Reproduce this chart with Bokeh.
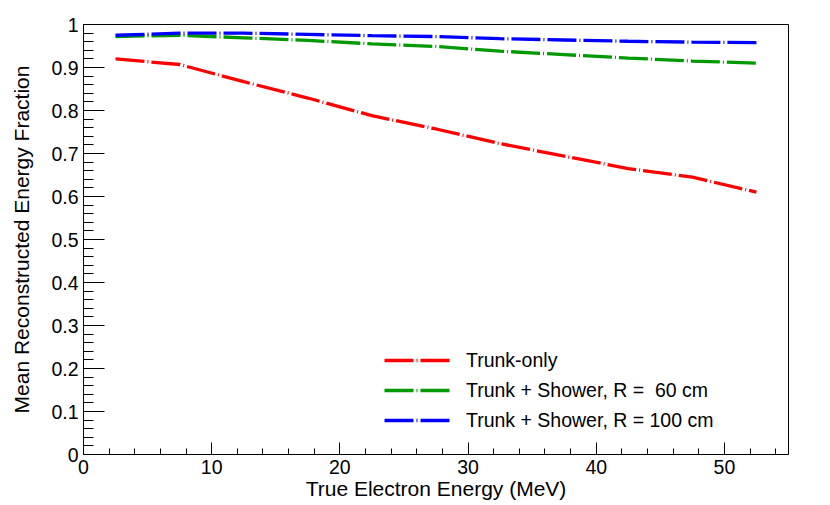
from bokeh.plotting import figure
from bokeh.models import Range1d, SingleIntervalTicker, Legend, LegendItem, ColumnDataSource
from bokeh.embed import file_html
from bokeh.resources import INLINE

# ---- data ----
energy_mev = [2.5, 7.5, 12.5, 17.5, 22.5, 27.5, 32.5, 37.5, 42.5, 47.5, 52.5]
trunk_only = [0.920, 0.907, 0.867, 0.829, 0.788, 0.757, 0.723, 0.694, 0.665, 0.645, 0.610]
shower_r60 = [0.972, 0.975, 0.969, 0.963, 0.955, 0.949, 0.938, 0.930, 0.922, 0.915, 0.910]
shower_r100 = [0.975, 0.980, 0.980, 0.977, 0.974, 0.972, 0.967, 0.964, 0.961, 0.959, 0.958]

series_labels = ["Trunk-only", "Trunk + Shower, R =  60 cm", "Trunk + Shower, R = 100 cm"]
series_colors = ["#ff0000", "#009900", "#0000ff"]
x_title = "True Electron Energy (MeV)"
y_title = "Mean Reconstructed Energy Fraction"

FONT = "Liberation Sans"

p = figure(
    frame_width=705, frame_height=430,
    min_border_left=83, min_border_right=42, min_border_top=24, min_border_bottom=51,
    x_range=Range1d(0, 55), y_range=Range1d(0, 1),
    output_backend="svg", toolbar_location=None,
)
p.background_fill_color = "white"
p.border_fill_color = "white"
p.outline_line_color = "black"
p.outline_line_width = 1
p.xgrid.visible = False
p.ygrid.visible = False

src = ColumnDataSource(dict(x=energy_mev, a=trunk_only, b=shower_r60, c=shower_r100))
renderers = []
for col, color in zip(["a", "b", "c"], series_colors):
    r = p.line("x", col, source=src, line_color=color, line_width=3.3,
               line_dash="29 3 1 3", line_cap="butt")
    renderers.append(r)

# axes
p.xaxis.ticker = SingleIntervalTicker(interval=10, num_minor_ticks=5)
p.yaxis.ticker = SingleIntervalTicker(interval=0.1, num_minor_ticks=5)
for ax in (p.xaxis[0], p.yaxis[0]):
    ax.axis_line_color = "black"
    ax.major_tick_line_color = "black"
    ax.minor_tick_line_color = "black"
    ax.major_tick_out = 0
    ax.minor_tick_out = 0
    ax.major_label_text_font = FONT
    ax.major_label_text_font_size = "19.5px"
    ax.major_label_text_color = "black"
    ax.axis_label_text_font = FONT
    ax.axis_label_text_font_size = "21px"
    ax.axis_label_text_font_style = "normal"
    ax.axis_label_text_color = "black"
p.xaxis.major_tick_in = 12
p.xaxis.minor_tick_in = 6
p.yaxis.major_tick_in = 21
p.yaxis.minor_tick_in = 10
p.xaxis.axis_label = x_title
p.yaxis.axis_label = y_title
p.xaxis.major_label_standoff = 5
p.yaxis.major_label_standoff = 5
p.xaxis.axis_label_standoff = 0
p.yaxis.axis_label_standoff = 15

legend = Legend(
    items=[LegendItem(label=l, renderers=[r]) for l, r in zip(series_labels, renderers)],
    location=(301, 19),
    border_line_color=None,
    background_fill_alpha=0,
    padding=0, margin=0, spacing=0,
    glyph_width=66, glyph_height=30, label_height=30,
    label_standoff=16,
    label_text_font=FONT, label_text_font_size="19.5px", label_text_color="black",
)
p.add_layout(legend)

open("out.html", "w").write(file_html(p, INLINE))
